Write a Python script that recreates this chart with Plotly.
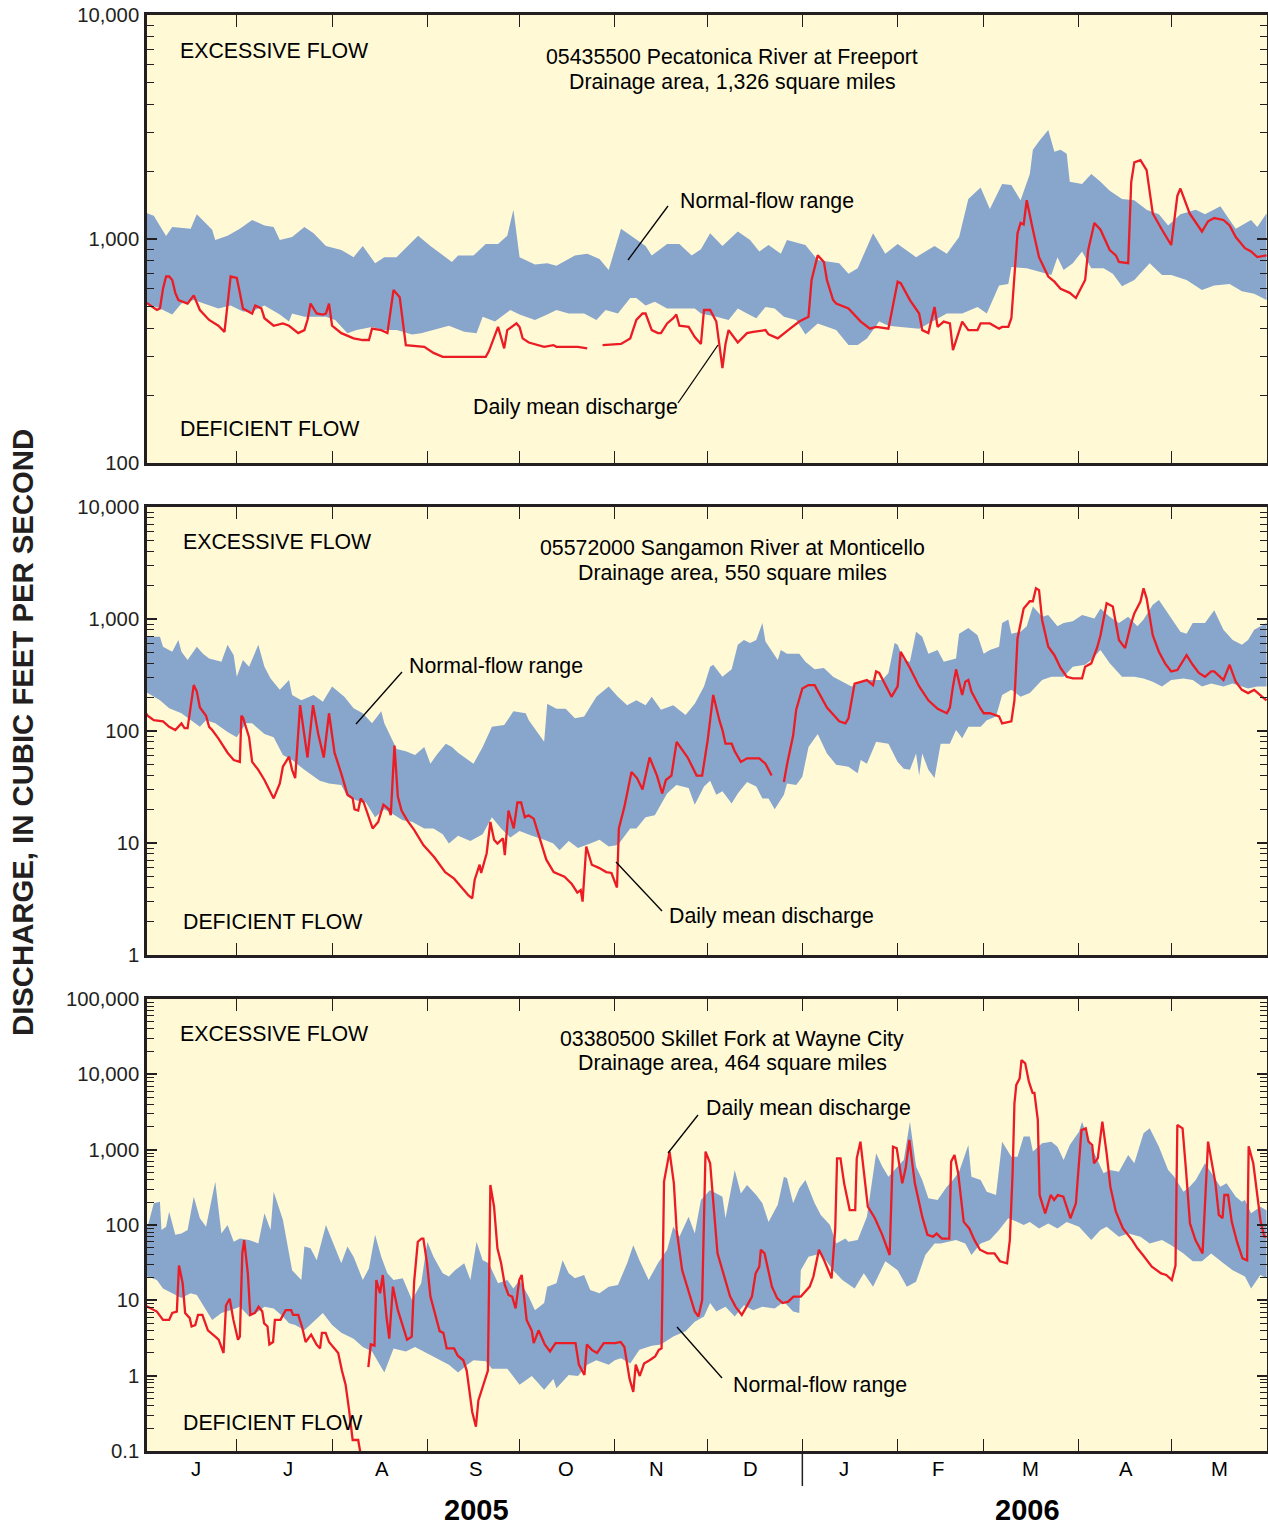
import pandas as pd
import plotly.graph_objects as go

# ---------------- data (day offsets from 2005-06-01, discharge in cfs) ----------------
START = pd.Timestamp("2005-06-01")

# Panel 1: 05435500 Pecatonica River at Freeport
p1_up_day = [0,1,3,7,9,15,17,22,23,27,31,35,39,42,44,48,52,55,59,64,68,71,75,78,82,89,93,100,102,107,111,115,118,120,122,127,131,134,140,144,148,151,155,159,163,165,170,174,178,181,184,188,193,197,200,203,207,209,215,219,226,229,232,237,241,245,251,257,261,265,268,272,275,279,282,285,288,289,291,294,296,298,300,301,305,308,311,314,318,322,326,330,333,337,342,345,350,353,355,360,362,365]
p1_up_cfs = [1330,1300,1270,1030,1130,1110,1290,1100,990,1035,1110,1216,1150,1130,990,1020,1130,1060,930,893,830,930,780,830,830,1035,930,790,845,845,950,950,1035,1350,830,770,780,760,845,860,815,727,1110,1020,930,845,950,950,845,900,1060,930,1080,990,880,940,860,990,940,806,780,700,740,1060,860,950,830,930,860,1020,1510,1700,1360,1760,1740,1490,1950,2500,2730,3070,2450,2500,2400,1800,1760,1950,1800,1640,1510,1490,1350,1290,1150,1290,1350,1290,1400,1216,1110,1216,1130,1300]
p1_lo_day = [0,1,5,9,12,16,19,24,28,32,35,39,44,47,48,52,59,62,66,69,74,78,82,87,90,94,99,104,108,110,114,119,122,127,131,134,138,143,147,150,154,158,160,163,166,170,174,179,181,186,190,193,196,199,202,205,208,212,215,219,222,225,229,232,235,239,242,246,252,257,261,266,271,274,278,281,282,287,291,295,297,299,302,305,308,312,315,318,322,327,331,334,339,344,348,353,357,361,365]
p1_lo_cfs = [520,515,490,460,515,534,515,490,505,475,475,505,460,428,465,450,450,435,380,392,405,392,392,375,380,392,410,385,380,450,428,482,460,435,460,482,465,465,435,482,465,545,545,505,525,490,490,490,465,450,435,490,465,443,497,490,450,435,375,420,405,392,336,336,360,428,410,405,398,435,465,465,497,465,620,630,750,740,715,690,830,727,780,880,740,740,700,615,656,780,690,690,656,592,620,630,585,570,534]
p1_q_day = [0,1,4,5,6,7,8,9,10,11,14,15,16,18,21,24,26,28,30,31,32,35,36,38,39,42,45,47,50,52,53,54,56,58,59,60,61,64,68,71,73,74,77,79,81,83,85,91,94,97,111,112,115,117,118,121,122,123,125,130,133,134,141,144,146,149,155,158,160,162,163,165,167,168,170,172,173,174,177,179,181,182,184,186,188,189,190,193,196,198,202,203,206,210,213,216,217,219,221,222,224,225,229,233,236,238,242,245,246,249,252,253,255,257,258,260,262,263,264,266,268,271,272,275,278,279,281,282,284,285,286,287,289,291,294,296,298,301,303,306,307,309,311,314,316,317,320,321,322,324,326,328,331,334,336,337,340,344,346,348,351,353,355,358,360,362,365]
p1_q_cfs = [520,515,482,490,600,680,680,656,575,534,515,534,560,482,435,410,385,680,670,575,490,465,505,490,443,410,420,410,380,392,435,515,465,460,465,515,410,380,360,354,354,398,392,380,592,550,336,330,310,298,298,315,405,325,392,420,405,360,345,330,336,330,330,325,None,336,340,360,435,465,465,392,380,380,420,443,460,410,405,365,340,482,482,428,265,340,392,345,380,385,392,375,360,398,428,450,656,845,790,656,534,515,490,428,398,405,398,645,635,534,465,392,380,497,405,428,420,319,354,428,392,392,420,420,398,405,405,443,1060,1180,1160,1490,1100,830,680,645,600,575,545,656,893,1180,1100,893,845,790,780,1800,2200,2250,2030,1300,1100,940,1560,1680,1300,1080,1200,1240,1216,1150,1020,910,880,830,845]

# Panel 2: 05572000 Sangamon River at Monticello
p2_up_day = [0,1,5,6,9,11,12,14,17,19,21,25,27,29,30,32,34,37,39,41,44,47,48,51,55,58,61,65,68,71,74,77,78,80,82,85,88,91,93,95,98,100,102,107,110,113,117,120,124,125,130,131,134,137,140,143,147,151,154,157,160,163,165,168,172,176,179,182,184,185,188,191,193,195,197,199,201,202,206,207,209,213,215,218,221,224,227,230,233,236,240,242,244,245,247,249,251,253,255,258,260,264,265,268,271,273,275,278,279,281,282,285,287,289,292,294,297,299,302,305,309,311,314,317,320,323,325,328,330,333,337,339,341,345,348,351,354,357,359,361,365]
p2_up_cfs = [700,695,695,566,510,650,510,430,566,490,445,415,590,475,305,430,375,590,375,295,233,285,210,188,210,182,250,202,160,144,117,150,117,91,69,66,61,72,51,61,77,72,64,51,72,109,113,150,144,125,80,175,158,158,130,135,202,250,202,170,188,170,202,155,170,139,175,250,375,390,305,355,590,650,610,650,920,630,430,530,490,490,415,355,365,305,275,250,275,285,285,330,610,590,430,415,770,695,490,530,415,445,740,830,715,490,530,566,920,990,740,770,860,1290,1045,1085,860,920,955,1085,1010,1240,1045,920,1045,860,990,1340,1480,1122,770,740,920,920,1200,800,650,590,650,800,920]
p2_lo_day = [0,1,5,8,12,15,18,20,23,27,30,33,35,39,42,45,48,52,57,60,64,66,69,72,75,78,81,84,87,91,94,97,99,102,106,110,113,116,119,122,126,130,133,135,138,141,145,148,151,154,158,160,163,166,170,173,177,179,182,184,186,188,191,193,196,199,201,203,205,208,209,212,214,216,219,222,225,229,232,233,235,238,242,245,247,249,251,252,253,255,257,259,262,264,266,268,272,274,277,279,282,285,288,292,295,299,302,306,308,311,314,318,320,322,325,328,331,334,338,341,344,347,351,354,357,359,362,365]
p2_lo_cfs = [220,218,188,160,144,125,109,125,117,98,88,117,117,94,88,61,55,45,36,34,33,26,24,23,17,20,18,16,15.5,13.5,13.5,12,9.9,11.6,10.4,12,17,13.5,11.2,12.8,11.6,10.7,9.9,8.6,10.4,9.0,9.9,10.7,9.3,9.6,13.5,13.5,17,17.7,27.7,33,31,22,32,36,27,29,22.5,27.7,35,32,25,25,20,27,34,33,39,72,94,63,50,48,42,55,51,80,77,53,46,45,63,40,63,45,38,77,77,102,86,109,109,125,135,210,233,202,218,285,305,305,375,390,430,530,402,305,305,305,295,275,250,285,295,285,250,265,250,265,250,240,250,250]
p2_q_day = [0,1,3,6,8,10,12,13,14,16,17,18,20,21,22,24,27,29,31,31.5,32,34,35,37,39,41,42,44,45,47,48,49,50.6,53,54.8,56.5,58.3,60,61.8,64.2,66,67.7,68.3,69.5,70.3,71.3,74.2,76,77.7,79.5,80.1,81.3,82.4,83.6,85.4,87.7,90.7,94.2,97.8,100.7,103.7,105.4,106.6,107.4,109,109.5,111.3,112.5,113.7,114.8,116.6,117.2,118.4,120.1,121.3,122.5,123.7,124.9,126.6,129,130.7,133.1,136.6,139,140.8,141.9,142.5,143.7,145.5,147.8,150.2,151.9,153.1,153.7,154.3,156.1,158.4,160.2,162,164.3,166.7,168.4,169.6,171.4,173.1,176.7,179.6,181.4,183.2,185,187,188,189,191,192,194,196,200,202,204,206,208,209,211,212,214,216,218,220,222,226,228,229,231,233,235,237,238,239,243,245,246,249,252,255,258,261,262,263,264,266,267,268,269,272,273,275,278,279,282,283,284,286,288,289,290,291,292,294,296,298,300,302,305,306,308,310,311,313,315,317,319,321,322,324,325,326,328,330,332,334,336,339,341,343,345,347,348,351,353,355,357,359,361,364,365]
p2_q_cfs = [150,137,125,122,109,102,117,106,106,257,225,162,137,109,102,86,64,55,53,137,132,88,53,45,36.5,27.7,25,34,48,59,45,38,170,58,170,94,58,144,64,40,27,25,20,19.5,25,23,13.5,15.4,22,20,17.7,74,26,19.5,16,13.1,9.6,7.5,5.5,4.8,3.8,3.4,3.2,4.7,6.4,5.4,8.1,15.4,10.7,9.9,11,7.8,19.5,13.5,23,23,17,17.7,16.5,9.9,7.1,5.5,5.0,4.3,3.6,3.8,3.0,9.3,6.4,6.0,5.5,5.4,4.3,4.0,13.5,21,43,38,30,58,40,27.7,36.5,40,80,58,40,40,83,210,125,102,77,77,66,53,57,57,51,40,None,35,50,91,155,240,257,257,202,162,122,117,130,265,275,285,257,340,330,202,250,510,365,250,188,158,144,162,250,355,210,275,285,225,158,144,144,135,117,122,188,670,1240,1440,1440,1880,1810,980,566,475,365,305,295,295,375,402,566,715,1380,1290,650,550,920,1122,1430,1880,1530,715,510,402,340,350,475,390,330,305,340,340,285,390,275,233,218,233,198,188]

# Panel 3: 03380500 Skillet Fork at Wayne City
p3_up_day = [0,1,3,5,5.5,7,8,10,12,14,16,18,20,23,25,27,29,31,34,37,39,41,42,45,47,48,51,52,54,56,59,61,64,66,68,71,73,75,77,79,81,84,87,90,92,94,97,99,101,104,106,108,110,112,115,118,120,122,125,127,130,131,134,136,138,140,143,145,148,151,154,157,159,161,164,167,170,172,174,177,179,181,184,185,188,189,192,194,196,199,201,203,206,208,209,211,213,215,218,220,223,225,228,229,232,235,238,240,242,245,247,249,251,253,255,258,261,263,265,268,269,272,274,277,279,282,284,286,288,289,292,295,297,299,301,304,305,307,310,312,314,317,320,322,325,327,330,333,335,338,340,342,345,348,350,352,355,357,358,360,363,365]
p3_up_cfs = [100,95,194,204,86,95,150,74,77,86,238,123,95,376,77,100,60,66,63,57,143,86,277,117,42,25,18.6,52,49,34,100,63,31,52,38,18.6,26.6,74,38,22.8,18.6,19.6,10.1,16.8,60,38,22.8,20.7,25,31,18.6,60,34,31,16.8,18.6,14.4,18.6,11.2,7.4,9.2,15.2,16.8,34,22.8,19.6,21.7,13.7,12.4,15.2,16,31,54,34,18.6,31,47,95,70,129,77,215,292,277,238,123,537,262,340,250,194,110,185,438,417,194,307,396,194,136,100,57,66,60,63,129,893,596,438,596,730,2355,596,396,226,215,323,396,511,1153,438,396,277,250,1277,807,807,1490,1490,942,1213,1277,1096,730,1153,1734,2355,1345,730,485,537,511,849,659,1648,1920,1096,537,438,277,323,396,659,438,323,357,238,204,215,143,175,157]
p3_lo_day = [0,1,4,6,9,12,15,17,20,22,25,28,31,34,37,39,42,45,47,49,52,54,58,61,64,68,71,74,78,81,85,88,92,95,99,102,105,107,111,113,115,118,122,126,130,133,134,138,141,144,147,151,153,155,158,161,165,168,172,176,179,182,184,186,189,192,195,198,201,205,208,211,213,213.5,216,220,224,227,231,234,237,241,245,248,251,254,257,259,264,267,269,272,275,278,281,284,286,288,291,294,297,300,304,308,311,313,317,320,324,327,331,334,338,341,344,347,351,354,358,360,363,365]
p3_lo_cfs = [20.7,20.7,18.6,14.4,12.4,10.7,12.4,11.8,7.4,5.5,6.8,7.4,8.2,6.1,7.1,8.2,7.8,6.1,4.95,4.7,4.0,4.7,6.8,4.7,3.7,3.1,2.4,2.1,1.1,2.3,2.1,2.4,2.0,1.7,1.4,1.1,1.4,1.6,1.55,1.24,1.24,1.24,0.76,0.99,0.65,0.9,0.68,1.02,0.99,1.4,1.6,1.4,1.6,1.7,1.45,2.2,2.5,2.6,3.3,3.9,5.2,6.1,9.2,7.1,8.2,6.1,8.6,7.4,8.2,7.8,9.6,7.1,6.8,25,38,42,25,18.6,14.4,22.8,15.2,33,25,15.2,17.7,40,57,57,63,57,40,57,63,86,123,110,100,110,90,105,90,110,95,63,86,95,70,77,70,57,63,54,42,33,33,42,31,25,20.7,14.4,21.7,19.6]
p3_q_day = [0,1,4,6,8,9,10.5,11.2,12.4,13.2,14.7,15.3,16.5,17.4,18.8,20.6,23,24.1,25.7,26.5,27.7,28.9,30.4,31,31.8,32.4,33.6,34.4,35.9,37.1,38.3,38.9,40,40.6,41.8,42.4,44.2,45.9,47.7,48.3,50,51.2,52.4,54.2,55.9,57.1,57.7,58.9,60,63,64.2,65.4,66.5,67.7,69.5,70.3,71.5,72.8,73.6,74.8,75.4,76.6,77.5,78.7,79.6,80.8,82.4,84.2,85.4,86.9,87.7,88.9,90.1,90.7,91.9,93,94.8,96,97.2,98.3,100.7,101.9,103.7,104.8,106.6,107.8,108.6,110.1,111.7,112.5,113.7,114.8,116,117.2,118.4,119.6,120.7,121.9,122.7,124.3,126,126.6,128.2,130.2,131.9,133.7,140.2,141.3,143.1,143.9,145.5,147.2,149.4,153.1,154.9,156.1,157.8,159,159.8,161.1,162.5,164.3,166.1,167.3,168.2,169,170.8,172.2,173.1,174.9,177.3,179,180.2,181.4,182.5,184,186.4,188.2,189.3,190.5,192.3,194.3,195.8,197.6,198.8,200,200.5,201.7,204.1,205.8,207.6,209.4,211.1,213.5,216.4,217.6,219.4,221.1,223.5,224.7,225.3,226.4,227.6,229.4,231.2,231.7,232.9,234.1,235.3,237.6,240,242.4,243.5,244.7,246.5,247.6,248.8,250.6,251.8,253,254.7,256.5,257.7,259.4,261.8,262.4,263.5,264.7,266.5,268.3,270,271.8,274.2,276.5,278.3,280.6,281.5,282.4,283,283.6,284.7,285.3,286.5,287.7,288.9,289.5,290.6,291.2,293,294.8,295.9,297.1,298.9,301.2,303,304.8,306.2,307.1,308.3,308.9,310.1,311.6,313,314.2,316,318.3,321.3,323,324.8,327.7,330.7,332.4,334.2,335.4,336,337.7,338.9,340.1,341.9,344.2,346,348.4,349.5,350.7,351.3,352.5,353.7,355.4,357.2,358.7,359.2,360.7,363.1,364.3,365]
p3_q_cfs = [8.5,8.2,7.1,5.5,5.5,6.8,7.1,29,16.8,6.8,5.8,4.5,4.7,6.4,6.4,4.0,3.3,3.0,2.0,8.6,10.5,5.5,3.0,3.3,42,63,22.8,6.4,6.8,8.2,7.1,4.95,4.5,2.6,2.8,5.5,5.5,7.4,7.4,6.4,6.4,4.5,2.8,3.5,2.6,2.3,3.7,3.7,2.8,2.0,1.17,0.76,0.36,0.14,0.14,0.09,None,1.3,2.6,2.5,18.6,12.4,21.7,6.1,3.1,15.2,7.4,4.3,3.0,3.3,17.7,60,66,66,31,11.2,6.1,3.9,3.7,2.3,2.3,1.84,1.6,1.17,0.33,0.21,0.47,0.76,1.17,340,175,49,31,16,11.8,11.2,7.8,18.6,21.7,5.5,3.9,2.7,4.0,2.6,2.1,2.7,2.7,1.4,1.02,2.6,2.2,2.0,2.7,2.7,2.8,2.4,0.9,0.61,1.4,0.99,1.45,1.6,1.8,2.2,2.3,377,942,357,86,25,11.8,7.1,6.1,10.1,942,659,42,22.8,16.8,11.2,8.2,6.4,8.2,11.2,22.8,28,47,42,15.2,10.7,9.2,9.6,11.2,11.2,15.2,20.7,47,34,19.6,90,767,767,357,158,158,767,1277,485,175,123,74,40,1096,1044,357,565,1345,357,215,129,74,70,77,66,66,693,850,485,110,90,63,47,42,42,33,31,63,485,4120,7230,8850,15500,14000,8000,5670,5670,2480,250,143,250,215,250,238,123,194,1820,1920,1277,1153,659,767,2355,893,323,150,90,63,49,40,28,22.8,21.7,18.6,29,2130,1920,485,105,63,42,1277,357,136,123,250,250,110,60,36,34,1110,659,110,70,70]

# axis ticks
MONTH_STARTS = ["2005-06-01","2005-07-01","2005-08-01","2005-09-01","2005-10-01","2005-11-01",
                "2005-12-01","2006-01-01","2006-02-01","2006-03-01","2006-04-01","2006-05-01","2006-06-01"]
MONTH_LABELS = ["J","J","A","S","O","N","D","J","F","M","A","M"]
MONTH_MIDS = ["2005-06-17 18:00","2005-07-17 16:00","2005-08-17 08:00","2005-09-16 22:00",
              "2005-10-16 05:00","2005-11-14 12:00","2005-12-15 03:00","2006-01-14 16:00",
              "2006-02-14 00:00","2006-03-16 08:00","2006-04-16 05:00","2006-05-16 20:00"]
P1_TICKS = [100, 1000, 10000]
P1_TICKTEXT = ["100", "1,000", "10,000"]
P2_TICKS = [1, 10, 100, 1000, 10000]
P2_TICKTEXT = ["1", "10", "100", "1,000", "10,000"]
P3_TICKS = [0.1, 1, 10, 100, 1000, 10000, 100000]
P3_TICKTEXT = ["0.1", "1", "10", "100", "1,000", "10,000", "100,000"]

# ---------------- styling ----------------
W, H = 1268, 1525
BG = "#FFF9D6"
BAND = "#88A5CC"
RED = "#EC1C24"
INK = "#231F20"
FONT = "Liberation Sans, Arial, sans-serif"
TXT = 21.3


def dates(days):
    return [START + pd.Timedelta(days=d) for d in days]


def px(x):
    return x / W


def py(y):
    return 1 - y / H


fig = go.Figure()

panels = [
    (p1_up_day, p1_up_cfs, p1_lo_day, p1_lo_cfs, p1_q_day, p1_q_cfs, "x", "y"),
    (p2_up_day, p2_up_cfs, p2_lo_day, p2_lo_cfs, p2_q_day, p2_q_cfs, "x2", "y2"),
    (p3_up_day, p3_up_cfs, p3_lo_day, p3_lo_cfs, p3_q_day, p3_q_cfs, "x3", "y3"),
]
for ud, uv, ld, lv, qd, qv, xa, ya in panels:
    fig.add_trace(go.Scatter(
        x=dates(ud) + dates(ld)[::-1], y=uv + lv[::-1],
        fill="toself", fillcolor=BAND, line=dict(width=0, color=BAND),
        mode="lines", hoverinfo="skip", showlegend=False, xaxis=xa, yaxis=ya))
    fig.add_trace(go.Scatter(
        x=dates(qd), y=qv, mode="lines", line=dict(color=RED, width=2.3),
        connectgaps=False, showlegend=False, xaxis=xa, yaxis=ya))

xrange_ = [START + pd.Timedelta(hours=19), pd.Timestamp("2006-06-01 04:00")]
xdom = [px(147), px(1267)]
ydoms = [[py(463), py(15)], [py(955), py(507)], [py(1451), py(999)]]
yranges = [[2, 4], [0, 4], [-1, 5]]
yticks = [(P1_TICKS, P1_TICKTEXT), (P2_TICKS, P2_TICKTEXT), (P3_TICKS, P3_TICKTEXT)]

for i in range(3):
    sfx = "" if i == 0 else str(i + 1)
    lo, hi = yranges[i]
    minors = [m * 10 ** k for k in range(lo, hi) for m in range(2, 10)]
    fig.update_layout(**{
        "xaxis" + sfx: dict(
            domain=xdom, range=xrange_, type="date", anchor="y" + sfx, automargin=False,
            tickvals=MONTH_STARTS, showticklabels=False, ticks="inside",
            ticklen=12, tickwidth=1.3, tickcolor=INK, showline=True, linecolor=INK,
            linewidth=2.5, mirror="ticks", showgrid=False, zeroline=False),
        "yaxis" + sfx: dict(
            domain=ydoms[i], range=yranges[i], type="log", anchor="x" + sfx, automargin=False,
            tickvals=yticks[i][0], ticktext=yticks[i][1], ticks="inside",
            ticklen=10, tickwidth=1.5, tickcolor=INK, showline=True, linecolor=INK,
            linewidth=2.5, mirror="ticks", showgrid=False, zeroline=False,
            tickfont=dict(size=20.3, color=INK, family=FONT), ticklabelstandoff=1,
            minor=dict(tickvals=minors, ticks="inside", ticklen=7, tickwidth=1.2,
                       tickcolor=INK, showgrid=False)),
    })

ann = []
def text(x, y, s, size=TXT, xanchor="left", bold=False, xref="paper", yref="paper"):
    ann.append(dict(x=x, y=y, xref=xref, yref=yref, text=("<b>%s</b>" % s) if bold else s,
                    showarrow=False, xanchor=xanchor, yanchor="middle",
                    font=dict(size=size, color="black", family=FONT)))

# panel labels
text(px(178), py(51), "EXCESSIVE FLOW")
text(px(178), py(429), "DEFICIENT FLOW")
text(px(732), py(57), "05435500 Pecatonica River at Freeport", xanchor="center")
text(px(732), py(82), "Drainage area, 1,326 square miles", xanchor="center")
text(px(678), py(201), "Normal-flow range")
text(px(471), py(407), "Daily mean discharge")

text(px(181), py(542), "EXCESSIVE FLOW")
text(px(181), py(922), "DEFICIENT FLOW")
text(px(732), py(548), "05572000 Sangamon River at Monticello", xanchor="center")
text(px(732), py(573), "Drainage area, 550 square miles", xanchor="center")
text(px(407), py(666), "Normal-flow range")
text(px(667), py(916), "Daily mean discharge")

text(px(178), py(1034), "EXCESSIVE FLOW")
text(px(181), py(1423), "DEFICIENT FLOW")
text(px(732), py(1039), "03380500 Skillet Fork at Wayne City", xanchor="center")
text(px(732), py(1063), "Drainage area, 464 square miles", xanchor="center")
text(px(704), py(1108), "Daily mean discharge")
text(px(731), py(1385), "Normal-flow range")

# month labels and years
for lab, mid in zip(MONTH_LABELS, MONTH_MIDS):
    ann.append(dict(x=mid, y=py(1469), xref="x3", yref="paper", text=lab, showarrow=False,
                    xanchor="center", yanchor="middle",
                    font=dict(size=20.3, color="black", family=FONT)))
text(px(476), py(1510), "2005", size=29, xanchor="center", bold=True)
text(px(1027), py(1510), "2006", size=29, xanchor="center", bold=True)

ann.append(dict(x=px(22), y=py(733), xref="paper", yref="paper",
                text="<b>DISCHARGE, IN CUBIC FEET PER SECOND</b>", textangle=-90,
                showarrow=False, xanchor="center", yanchor="middle",
                font=dict(size=29.3, color=INK, family=FONT)))

shapes = []
def leader(x0, y0, x1, y1):
    shapes.append(dict(type="line", xref="paper", yref="paper", x0=px(x0), y0=py(y0),
                       x1=px(x1), y1=py(y1), line=dict(color="black", width=1.3)))

leader(668, 206, 628, 260)
leader(678, 403, 718, 345)
leader(402, 672, 356, 724)
leader(662, 911, 616, 862)
leader(698, 1115, 668, 1153)
leader(722, 1378, 677, 1327)
# separator between 2005 and 2006
shapes.append(dict(type="line", xref="x3", yref="paper", x0="2006-01-01", x1="2006-01-01",
                   y0=py(1451), y1=py(1486), line=dict(color=INK, width=1.5)))

fig.update_layout(
    width=W, height=H, margin=dict(l=0, r=0, t=0, b=0, autoexpand=False),
    paper_bgcolor="white", plot_bgcolor=BG, showlegend=False,
    annotations=ann, shapes=shapes, font=dict(family=FONT),
)

fig.write_html("out.html", config={"displayModeBar": False},
               post_script="document.body.style.margin='0';document.body.style.overflow='hidden';")
